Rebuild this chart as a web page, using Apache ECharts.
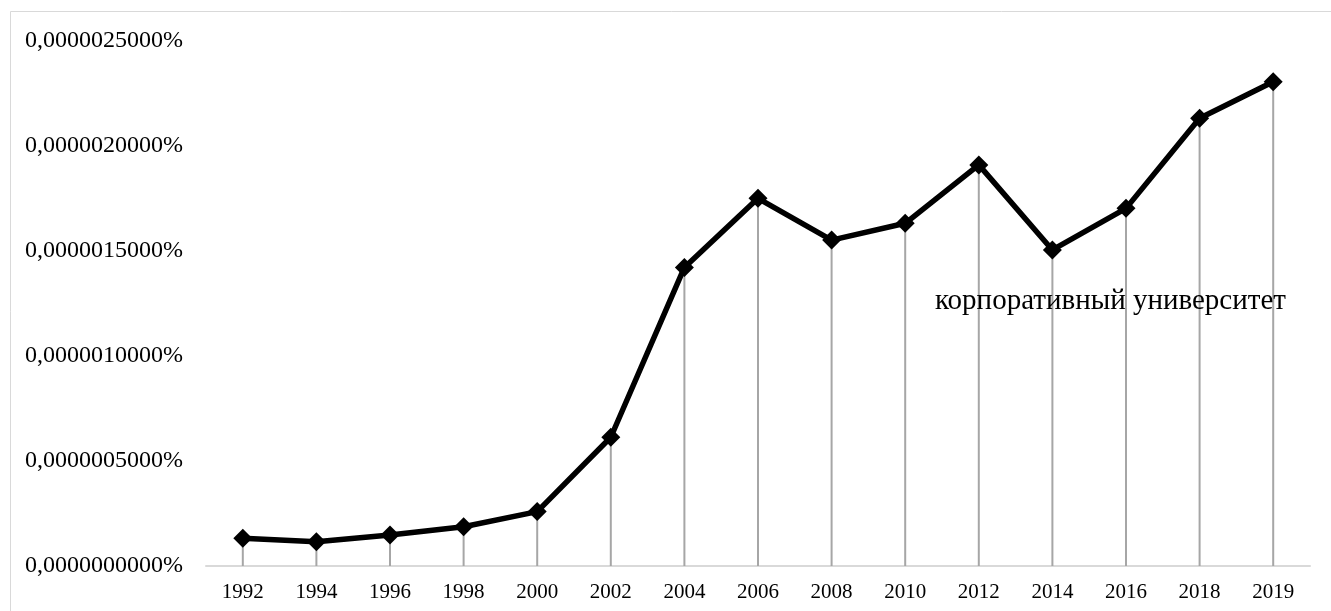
<!DOCTYPE html>
<html>
<head>
<meta charset="utf-8">
<script src="https://cdn.jsdelivr.net/npm/echarts@6/dist/echarts.min.js"></script>
<style>
  html, body { margin: 0; padding: 0; background: #fff; }
  #chart { width: 1331px; height: 611px; }
</style>
</head>
<body>
<div id="chart"></div>
<script>
// Share of the term in the corpus, in percent, by year
const years = ['1992', '1994', '1996', '1998', '2000', '2002', '2004', '2006', '2008', '2010', '2012', '2014', '2016', '2018', '2019'];
const shares = [0.000000132, 0.000000116, 0.000000148, 0.000000187, 0.000000259, 0.000000613, 0.000001422, 0.000001751, 0.000001552, 0.000001632, 0.000001910, 0.000001505, 0.000001703, 0.000002132, 0.000002306];
const seriesName = 'корпоративный университет';

const FONT = '"Liberation Serif", "Times New Roman", serif';

const chart = echarts.init(document.getElementById('chart'), null, { renderer: 'canvas' });

chart.setOption({
  animation: false,
  backgroundColor: '#ffffff',
  textStyle: { fontFamily: FONT },
  graphic: [
    {
      type: 'rect',
      shape: { x: 10.5, y: 11.5, width: 1340, height: 620 },
      style: { fill: 'none', stroke: '#d9d9d9', lineWidth: 1 },
      silent: true,
      z: -10
    },
    {
      type: 'text',
      left: 935,
      top: 287,
      style: { text: seriesName, font: '29px ' + FONT, fill: '#000' },
      z: 10
    }
  ],
  grid: { left: 206, right: 21, top: 41, bottom: 45, containLabel: false },
  xAxis: {
    type: 'category',
    data: years,
    boundaryGap: true,
    axisLine: { show: true, lineStyle: { color: '#d9d9d9', width: 2 } },
    axisTick: { show: false },
    axisLabel: { color: '#000', fontSize: 21, fontFamily: FONT, margin: 16 },
    splitLine: { show: false }
  },
  yAxis: {
    type: 'value',
    min: 0,
    max: 0.0000025,
    interval: 0.0000005,
    axisLine: { show: false },
    axisTick: { show: false },
    splitLine: { show: false },
    axisLabel: {
      color: '#000',
      fontSize: 24,
      fontFamily: FONT,
      margin: 23,
      formatter: v => v.toFixed(10).replace('.', ',') + '%'
    }
  },
  series: [
    {
      // drop lines from each point to the category axis
      type: 'bar',
      data: shares,
      barWidth: 2,
      itemStyle: { color: '#a6a6a6' },
      silent: true,
      z: 1
    },
    {
      name: seriesName,
      type: 'line',
      data: shares,
      symbol: 'diamond',
      symbolSize: 19,
      lineStyle: { color: '#000', width: 5.5 },
      itemStyle: { color: '#000' },
      z: 3
    }
  ]
});
</script>
</body>
</html>
